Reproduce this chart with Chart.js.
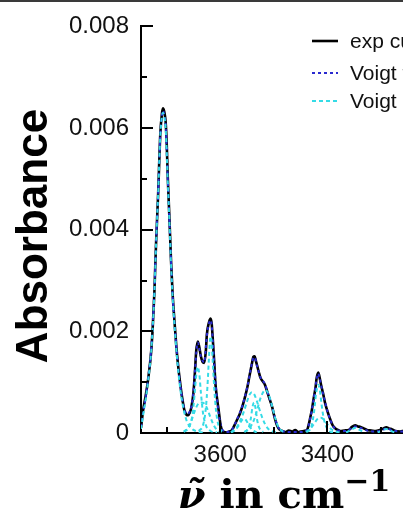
<!DOCTYPE html>
<html>
<head>
<meta charset="utf-8">
<script src="https://cdn.jsdelivr.net/npm/chart.js@4.4.1/dist/chart.umd.min.js"></script>
<style>
  html, body { margin: 0; padding: 0; background: #fff; overflow: hidden; width: 403px; height: 517px; }
  #wrap { position: relative; width: 520px; height: 517px; }
  #topline { position: absolute; left: 0; top: 0; width: 520px; height: 2px; background: #3a3a3a; }
</style>
</head>
<body>
<div id="wrap">
  <div id="topline"></div>
  <canvas id="c" width="520" height="517"></canvas>
</div>
<script>
// wavenumber (cm-1) and absorbance
const expNu = [3748,3744,3739,3735,3729,3726,3723,3720,3716,3712,3709,3707,3705,3702,3700,3698,3695,3692,3689,3685,3682,3679,3676,3673,3670,3667,3663,3660,3657,3654,3650,3647,3645,3642,3639,3636,3633,3630,3627,3625,3621,3618,3616,3614,3611,3609,3606,3603,3600,3597,3593,3588,3583,3578,3574,3569,3563,3558,3553,3549,3546,3543,3541,3538,3536,3533,3531,3528,3525,3521,3517,3514,3511,3507,3503,3500,3497,3494,3491,3487,3484,3478,3472,3466,3460,3455,3450,3444,3438,3434,3431,3429,3426,3422,3420,3417,3415,3412,3408,3404,3399,3394,3390,3385,3380,3376,3368,3360,3354,3348,3343,3338,3332,3326,3318,3310,3302,3295,3290,3285,3279,3273,3264,3255,3245,3235,3225,3212,3200,3185,3170,3150,3130,3100];
const expAbs = [0.00010,0.00045,0.00075,0.00103,0.00160,0.00210,0.00277,0.00370,0.00470,0.00587,0.00628,0.00639,0.00634,0.00612,0.00570,0.00503,0.00425,0.00341,0.00275,0.00213,0.00170,0.00136,0.00108,0.00083,0.00062,0.00045,0.00036,0.00035,0.00040,0.00050,0.00080,0.00125,0.00160,0.00180,0.00168,0.00150,0.00140,0.00138,0.00160,0.00194,0.00218,0.00225,0.00215,0.00186,0.00135,0.00097,0.00068,0.00045,0.00020,0.00006,0.00002,0.00001,0.00003,0.00006,0.00014,0.00025,0.00039,0.00055,0.00074,0.00092,0.00109,0.00125,0.00136,0.00150,0.00151,0.00140,0.00132,0.00120,0.00109,0.00102,0.00096,0.00087,0.00077,0.00064,0.00051,0.00037,0.00025,0.00015,0.00009,0.00005,0.00004,0.00002,0.00005,0.00003,0.00006,0.00002,0.00003,0.00004,0.00006,0.00020,0.00035,0.00045,0.00065,0.00090,0.00108,0.00119,0.00112,0.00096,0.00078,0.00058,0.00040,0.00025,0.00015,0.00009,0.00006,0.00004,0.00005,0.00006,0.00012,0.00015,0.00013,0.00012,0.00009,0.00006,0.00005,0.00004,0.00006,0.00009,0.00011,0.00009,0.00007,0.00004,0.00003,0.00005,0.00004,0.00006,0.00004,0.00005,0.00004,0.00006,0.00004,0.00005,0.00003,0.00004];

const fitNu = [3748,3744,3739,3735,3729,3723,3720,3716,3712,3709,3707,3705,3702,3698,3695,3692,3689,3685,3679,3673,3667,3662,3657,3654,3650,3647,3642,3639,3636,3630,3625,3621,3618,3616,3614,3611,3606,3600,3595,3588,3578,3569,3558,3549,3543,3538,3536,3531,3525,3517,3511,3503,3497,3491,3484,3470,3450,3438,3431,3426,3420,3417,3415,3408,3399,3390,3380,3365,3354,3348,3338,3326,3310,3295,3290,3280,3265,3240,3200,3150,3100];
const fitAbs = [0.00012,0.00040,0.00072,0.00105,0.00165,0.00280,0.00372,0.00472,0.00585,0.00625,0.00634,0.00628,0.00606,0.00500,0.00422,0.00340,0.00272,0.00210,0.00135,0.00082,0.00047,0.00037,0.00042,0.00052,0.00082,0.00127,0.00178,0.00166,0.00150,0.00139,0.00192,0.00216,0.00222,0.00212,0.00184,0.00133,0.00066,0.00020,0.00005,0.00002,0.00007,0.00026,0.00056,0.00093,0.00126,0.00148,0.00149,0.00131,0.00110,0.00097,0.00078,0.00051,0.00026,0.00010,0.00004,0.00002,0.00002,0.00006,0.00034,0.00064,0.00106,0.00117,0.00110,0.00077,0.00040,0.00015,0.00005,0.00004,0.00010,0.00013,0.00010,0.00005,0.00003,0.00007,0.00009,0.00006,0.00003,0.00003,0.00003,0.00003,0.00003];

// single Voigt components, [wavenumber, absorbance]
const voigt3707 = [[3748,0.00008],[3744,0.00035],[3739,0.00068],[3735,0.00100],[3729,0.00160],[3723,0.00275],[3720,0.00368],[3716,0.00470],[3712,0.00583],[3709,0.00622],[3707,0.00630],[3705,0.00624],[3702,0.00600],[3698,0.00495],[3695,0.00418],[3692,0.00335],[3689,0.00268],[3685,0.00205],[3679,0.00128],[3673,0.00074],[3667,0.00040],[3662,0.00022],[3656,0.00012],[3650,0.00006],[3640,0.00002],[3630,0.00001]];
const voigt3642 = [[3668,0.00003],[3658,0.00012],[3652,0.00035],[3648,0.00075],[3645,0.00112],[3642,0.00130],[3639,0.00115],[3636,0.00078],[3632,0.00038],[3626,0.00013],[3618,0.00004],[3606,0.00001]];
const voigt3618 = [[3640,0.00004],[3632,0.00016],[3627,0.00048],[3624,0.00090],[3621,0.00150],[3619,0.00184],[3618,0.00190],[3616,0.00176],[3614,0.00140],[3611,0.00085],[3608,0.00045],[3604,0.00018],[3599,0.00006],[3592,0.00001]];
const voigt3632 = [[3668,0.00002],[3660,0.00010],[3654,0.00024],[3648,0.00042],[3642,0.00056],[3636,0.00060],[3630,0.00058],[3624,0.00047],[3618,0.00030],[3612,0.00015],[3606,0.00006],[3598,0.00001]];
const voigt3537 = [[3555,0.00002],[3547,0.00010],[3543,0.00028],[3540,0.00050],[3537,0.00060],[3534,0.00048],[3531,0.00025],[3527,0.00010],[3520,0.00002]];
const voigt3541 = [[3580,0.00002],[3570,0.00010],[3562,0.00026],[3556,0.00042],[3550,0.00062],[3545,0.00076],[3541,0.00080],[3537,0.00077],[3532,0.00064],[3526,0.00044],[3520,0.00026],[3512,0.00010],[3502,0.00003],[3492,0.00001]];
const voigt3516 = [[3555,0.00002],[3545,0.00010],[3537,0.00026],[3531,0.00046],[3525,0.00068],[3520,0.00080],[3516,0.00085],[3512,0.00081],[3507,0.00068],[3502,0.00048],[3497,0.00028],[3492,0.00013],[3486,0.00005],[3478,0.00001]];
const voigt3556 = [[3580,0.00001],[3572,0.00006],[3566,0.00014],[3561,0.00023],[3556,0.00028],[3551,0.00024],[3546,0.00014],[3540,0.00006],[3532,0.00001]];
const voigt3417 = [[3438,0.00002],[3430,0.00012],[3425,0.00040],[3421,0.00078],[3418,0.00093],[3417,0.00095],[3414,0.00084],[3411,0.00058],[3407,0.00030],[3402,0.00012],[3395,0.00003],[3388,0.00001]];
const voigt3412 = [[3440,0.00002],[3432,0.00008],[3425,0.00018],[3418,0.00028],[3412,0.00030],[3406,0.00026],[3400,0.00017],[3393,0.00008],[3385,0.00003],[3376,0.00001]];
const voigt3348 = [[3365,0.00001],[3356,0.00006],[3348,0.00010],[3340,0.00006],[3331,0.00001]];
const voigt3290 = [[3306,0.00001],[3297,0.00005],[3290,0.00008],[3283,0.00005],[3274,0.00001]];
const voigtParts = [voigt3707, voigt3642, voigt3618, voigt3632, voigt3537, voigt3541, voigt3516, voigt3556, voigt3417, voigt3412, voigt3348, voigt3290];

const labels = ['exp curve', 'Voigt fit', 'Voigt components'];
const xMin = 3100, xMax = 3748;
const yMin = 0, yMax = 0.008;

const pts = (xs, ys) => xs.map((v, i) => ({ x: v, y: ys[i] }));
const CYAN = '#35dbe6', BLUE = '#2a2ad0';

const datasets = [
  { label: labels[0], data: pts(expNu, expAbs), borderColor: '#000', borderWidth: 2.6, order: 2 },
  { label: labels[1], data: pts(fitNu, fitAbs), borderColor: BLUE, borderWidth: 2, borderDash: [3, 3], order: 1 },
].concat(voigtParts.map((p, i) => ({
  label: i === 0 ? labels[2] : '',
  data: p.map(d => ({ x: d[0], y: d[1] })),
  borderColor: CYAN, borderWidth: 2, borderDash: [4, 3], order: 0,
})));

// ticks pointing into the plot, long where there is a label
const inwardTicks = {
  id: 'inwardTicks',
  afterDraw(chart) {
    const { ctx, chartArea: a } = chart;
    const xs = chart.scales.x, ys = chart.scales.y;
    ctx.save();
    ctx.strokeStyle = '#000';
    ctx.lineWidth = 2;
    ys.ticks.forEach(t => {
      const py = Math.round(ys.getPixelForValue(t.value));
      const len = t.label ? 12 : 6;
      ctx.beginPath(); ctx.moveTo(a.left, py); ctx.lineTo(a.left + len, py); ctx.stroke();
    });
    xs.ticks.forEach(t => {
      const px = Math.round(xs.getPixelForValue(t.value));
      const len = t.label ? 12 : 6;
      ctx.beginPath(); ctx.moveTo(px, a.bottom); ctx.lineTo(px, a.bottom - len); ctx.stroke();
    });
    ctx.restore();
  }
};

// axis titles (x title needs a raised exponent)
const axisTitles = {
  id: 'axisTitles',
  afterDraw(chart) {
    const { ctx, chartArea: a } = chart;
    ctx.save();
    ctx.fillStyle = '#000';
    ctx.font = 'bold 44px "Liberation Sans", Arial, sans-serif';
    ctx.textAlign = 'center';
    ctx.textBaseline = 'alphabetic';
    ctx.translate(47, 236);
    ctx.rotate(-Math.PI / 2);
    ctx.fillText('Absorbance', 0, 0);
    ctx.restore();

    ctx.save();
    ctx.fillStyle = '#000';
    ctx.textBaseline = 'alphabetic';
    ctx.textAlign = 'left';
    const parts = [
      { t: 'ν\u0303', f: 'italic bold 40px "DejaVu Serif", serif', dy: 0 },
      { t: ' in cm', f: 'bold 40px "DejaVu Serif", serif', dy: 0 },
      { t: '\u22121', f: 'bold 30px "DejaVu Serif", serif', dy: -17 },
    ];
    let w = 0;
    parts.forEach(p => { ctx.font = p.f; p.w = ctx.measureText(p.t).width; w += p.w; });
    let x = a.left + 143 - w / 2;
    const base = 508;
    parts.forEach(p => { ctx.font = p.f; ctx.fillText(p.t, x, base + p.dy); x += p.w; });
    ctx.restore();
  }
};

// legend at top right, partly cut by the page edge as in the figure
const sideLegend = {
  id: 'sideLegend',
  afterDraw(chart) {
    const ctx = chart.ctx;
    const rows = [41, 73, 101];
    const shown = chart.data.datasets.filter(d => d.label);
    ctx.save();
    ctx.font = '21px "Liberation Sans", Arial, sans-serif';
    ctx.textBaseline = 'middle';
    ctx.fillStyle = '#111';
    shown.forEach((d, i) => {
      const y = rows[i];
      ctx.strokeStyle = d.borderColor;
      ctx.lineWidth = d.borderWidth;
      ctx.setLineDash(d.borderDash || []);
      ctx.beginPath(); ctx.moveTo(312, y); ctx.lineTo(338, y); ctx.stroke();
      ctx.fillText(d.label, 350, y + 1);
    });
    ctx.restore();
  }
};

new Chart(document.getElementById('c').getContext('2d'), {
  type: 'line',
  data: { datasets },
  options: {
    responsive: false,
    animation: false,
    layout: { padding: { top: 20, right: 32, left: 0, bottom: 0 } },
    elements: { point: { radius: 0 }, line: { cubicInterpolationMode: 'monotone', fill: false } },
    plugins: { legend: { display: false }, tooltip: { enabled: false } },
    scales: {
      x: {
        type: 'linear', reverse: true, min: xMin, max: xMax,
        afterFit: s => { s.height = 84; },
        border: { color: '#000', width: 2 },
        grid: { drawOnChartArea: false, drawTicks: false },
        ticks: {
          stepSize: 100, includeBounds: false, padding: 8, color: '#111', maxRotation: 0, autoSkip: false,
          font: { family: '"Liberation Sans", Arial, sans-serif', size: 24 },
          callback: v => (v % 200 === 0 ? String(v) : ''),
        },
      },
      y: {
        min: yMin, max: yMax,
        afterFit: s => { s.width = 141; },
        border: { color: '#000', width: 2 },
        grid: { drawOnChartArea: false, drawTicks: false },
        ticks: {
          stepSize: 0.001, padding: 12, color: '#111', autoSkip: false,
          font: { family: '"Liberation Sans", Arial, sans-serif', size: 24 },
          callback: v => {
            const k = Math.round(v * 1000);
            if (k % 2 !== 0) return '';
            return k === 0 ? '0' : (k / 1000).toFixed(3);
          },
        },
      },
    },
  },
  plugins: [inwardTicks, axisTitles, sideLegend],
});
</script>
</body>
</html>
